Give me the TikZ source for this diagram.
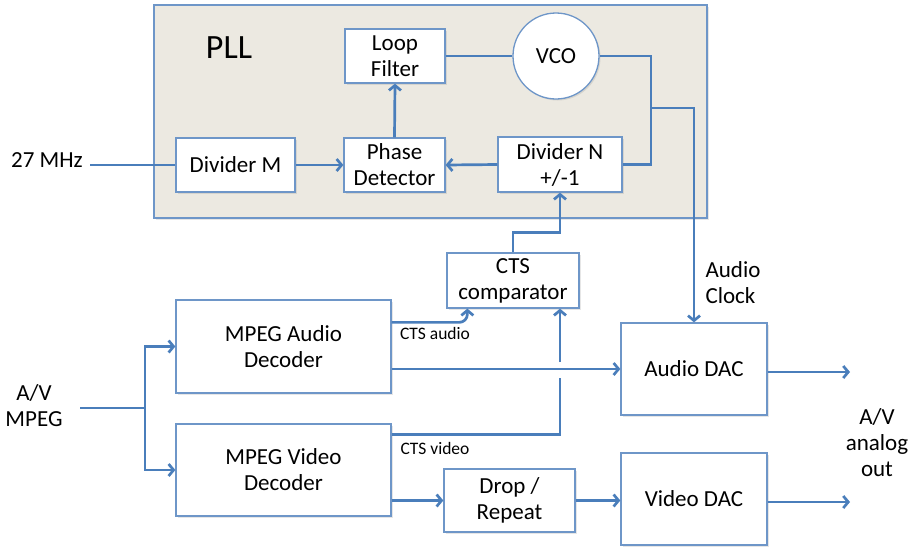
\documentclass[tikz,border=0pt]{standalone}
\usepackage{fontspec}
\setmainfont{Carlito}
\usetikzlibrary{arrows.meta,shadows}
\definecolor{linkblue}{RGB}{74,126,187}
\definecolor{boxblue}{RGB}{110,150,200}
\definecolor{pllfill}{RGB}{236,233,225}
\tikzstyle{block} = [draw=boxblue, fill=white, line width=1.3pt, rectangle, align=center, inner sep=2pt, font=\fontsize{23}{26}\selectfont, drop shadow={opacity=0.2, shadow xshift=1.5pt, shadow yshift=-1.5pt}]
\tikzstyle{plaintext} = [align=center, font=\fontsize{23}{26}\selectfont]
\tikzstyle{smalltext} = [font=\fontsize{17.5}{20}\selectfont]
\tikzstyle{link} = [draw=linkblue, line width=2.7pt]
\tikzstyle{arr} = [link, -{Straight Barb[length=5pt, width=12pt]}]

\begin{document}
\begin{tikzpicture}[x=1pt, y=-1pt]
\useasboundingbox (0,0) rectangle (911,547);

\node [draw=boxblue, fill=pllfill, line width=1.3pt, rectangle, minimum width=553, minimum height=213, drop shadow={opacity=0.2, shadow xshift=1.5pt, shadow yshift=-1.5pt}] (pll) at (430.5,111.5) {};
\node [plaintext, font=\fontsize{34}{38}\selectfont] (plltitle) at (229,48) {PLL};

\node [block, minimum width=100, minimum height=54] (loopfilter) at (395,56) {Loop\\Filter};
\node [block, circle, minimum size=86] (vco) at (556,56) {VCO};
\node [block, minimum width=119, minimum height=54] (dividerm) at (235.5,165) {Divider M};
\node [block, minimum width=101, minimum height=54] (phasedet) at (394.5,165) {Phase\\Detector};
\node [block, minimum width=124, minimum height=55] (dividern) at (560,164.5) {Divider N\\+/-1};
\node [block, minimum width=132, minimum height=55] (ctscomp) at (513,280.5) {CTS\\comparator};
\node [block, minimum width=215, minimum height=93] (audiodec) at (283.5,346.5) {MPEG Audio\\Decoder};
\node [block, minimum width=215, minimum height=92] (videodec) at (283.5,470) {MPEG Video\\Decoder};
\node [block, minimum width=131, minimum height=63] (droprep) at (509.5,500.5) {Drop /\\Repeat};
\node [block, minimum width=146, minimum height=92] (audiodac) at (694,369) {Audio DAC};
\node [block, minimum width=146, minimum height=92] (videodac) at (694,499) {Video DAC};

\node [plaintext] (mhz) at (47,160) {27 MHz};
\node [plaintext] (avin) at (34,406) {A/V\\MPEG};
\node [plaintext] (avout) at (877,443) {A/V\\analog\\out};
\node [plaintext, anchor=west, align=left] (aclock) at (702,283) {Audio\\Clock};
\node [smalltext] (ctsaudio) at (435,333) {CTS audio};
\node [smalltext] (ctsvideo) at (435,448) {CTS video};

\coordinate (tap) at (651,108);
\coordinate (split) at (145,408);
\coordinate (hopa) at (560,378);
\coordinate (hopb) at (560,362);
\coordinate (outa) at (850,372);
\coordinate (outv) at (850,502);

\draw [link] ([xshift=4pt]mhz.east |- dividerm.west) -- (dividerm.west);
\draw [arr] (dividerm.east) -- (phasedet.west);
\draw [arr] (phasedet.north) -- (loopfilter.south);
\draw [link] (loopfilter.east) -- (vco.west);
\draw [link] (vco.east) -| (tap) |- (dividern.east);
\draw [arr] (dividern.west) -- (phasedet.east);
\draw [arr] (tap) -| (audiodac.north);
\draw [arr] (ctscomp.north) -- ++(0,-20) -| (dividern.south);

\draw [link] ([xshift=14pt]avin.east |- split) -- (split);
\draw [arr] (split) |- (audiodec.west);
\draw [arr] (split) |- (videodec.west);
\draw [arr, rounded corners=8pt] ([yshift=-23pt]audiodec.north east) -| ([xshift=21pt]ctscomp.south west);
\draw [arr] (audiodec.east |- audiodac.west) -- (audiodac.west);
\draw [link] ([yshift=-11pt]videodec.north east) -| (hopa);
\draw [arr] (hopb) -- (hopb |- ctscomp.south);
\draw [arr] (videodec.east |- droprep.west) -- (droprep.west);
\draw [arr] (droprep.east) -- (videodac.west |- droprep.east);
\draw [arr] (audiodac.east |- outa) -- (outa);
\draw [arr] (videodac.east |- outv) -- (outv);
\end{tikzpicture}
\end{document}
